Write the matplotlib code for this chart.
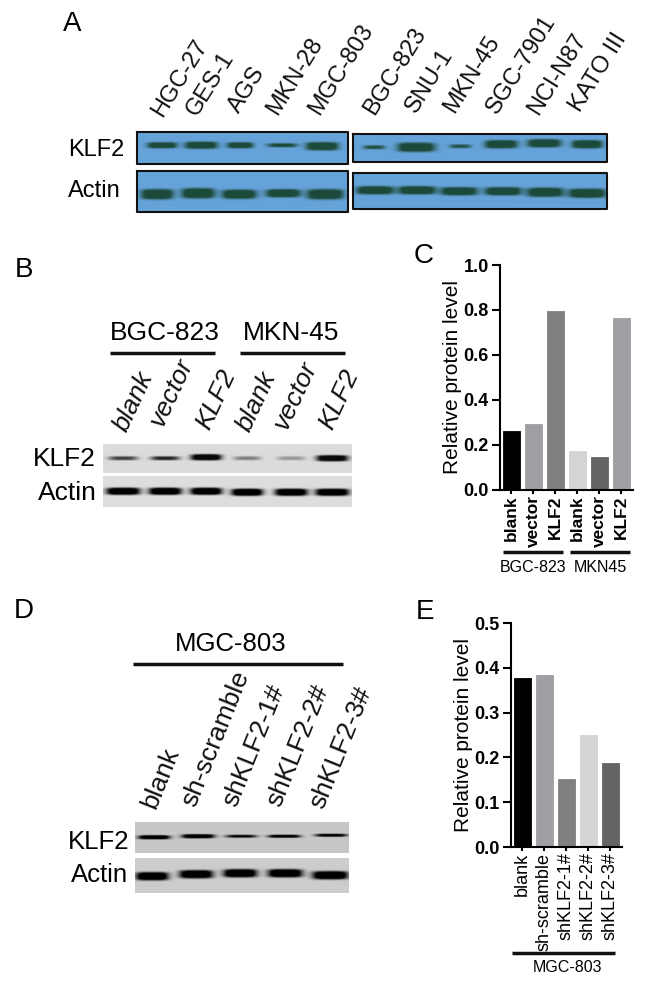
import numpy as np
import matplotlib
matplotlib.use('Agg')
import matplotlib.pyplot as plt

plt.rcParams['font.family'] = ['Liberation Sans', 'DejaVu Sans']

# Panel A
cells_a = ['HGC-27', 'GES-1', 'AGS', 'MKN-28', 'MGC-803', 'BGC-823', 'SNU-1',
           'MKN-45', 'SGC-7901', 'NCI-N87', 'KATO III']
klf2_a_left = [0.9, 1.0, 0.9, 0.75, 1.0]
actin_a_left = [1.0, 1.0, 1.0, 1.0, 1.0]
klf2_a_right = [0.65, 1.0, 0.6, 1.0, 1.0, 1.0]
actin_a_right = [1.0, 1.0, 1.0, 1.0, 1.0, 1.0]

# Panel B and C
lanes_b = ['blank', 'vector', 'KLF2', 'blank', 'vector', 'KLF2']
klf2_b = [0.5, 0.6, 1.0, 0.3, 0.22, 0.95]
actin_b = [1.0, 1.0, 1.0, 1.0, 1.0, 1.0]
labels_c = ['blank', 'vector', 'KLF2', 'blank', 'vector', 'KLF2']
values_c = [0.262, 0.29, 0.795, 0.17, 0.145, 0.765]
ticks_c = [0.0, 0.2, 0.4, 0.6, 0.8, 1.0]
colors_c = ['#000000', '#a0a0a4', '#808080', '#d4d4d4', '#646464', '#a0a0a4']

# Panel D and E
lanes_d = ['blank', 'sh-scramble', 'shKLF2-1#', 'shKLF2-2#', 'shKLF2-3#']
klf2_d = [1.0, 1.0, 0.7, 0.9, 0.8]
actin_d = [1.0, 1.0, 1.0, 1.0, 1.0]
labels_e = ['blank', 'sh-scramble', 'shKLF2-1#', 'shKLF2-2#', 'shKLF2-3#']
values_e = [0.377, 0.383, 0.152, 0.251, 0.187]
ticks_e = [0.0, 0.1, 0.2, 0.3, 0.4, 0.5]
colors_e = ['#000000', '#a0a0a4', '#808080', '#d4d4d4', '#646464']

W, H = 650, 985
fig = plt.figure(figsize=(W / 100, H / 100), dpi=100)

# overlay in pixel coordinates for the blots, labels and group lines
ov = fig.add_axes([0, 0, 1, 1])
ov.set_xlim(0, W)
ov.set_ylim(H, 0)
ov.axis('off')


def blot(box, centres, widths, ys, heights, strengths, bg, band, edge=None):
    x0, x1, y0, y1 = box
    xx, yy = np.meshgrid(np.arange(x0, x1, 0.5), np.arange(y0, y1, 0.5))
    a = np.zeros(xx.shape)
    for c, w, y, h, s in zip(centres, widths, ys, heights, strengths):
        a += s * np.exp(-((xx - c) / (w / 2.0)) ** 4) * np.exp(-((yy - y) / (h / 2.0)) ** 4)
    a = np.clip(a * 1.5, 0, 1)[..., None]
    bg = np.array(matplotlib.colors.to_rgb(bg))
    band = np.array(matplotlib.colors.to_rgb(band))
    img = bg * (1 - a) + band * a
    ov.imshow(img, extent=(x0, x1, y1, y0), aspect='auto', interpolation='bilinear', zorder=1)
    if edge:
        ov.plot([x0, x1, x1, x0, x0], [y0, y0, y1, y1, y0], color=edge, lw=1.5, zorder=2)


def rotated(labels, xs, ys, size, angle, style='normal'):
    for s, x, y in zip(labels, xs, ys):
        ov.text(x, y, s, fontsize=size, rotation=angle, rotation_mode='anchor',
                ha='left', va='baseline', style=style, color='#111111')


def bars(rect, labels, values, ticks, colors, width_px, xlab_size, weight, labelpad):
    left, right, top, bottom = rect
    ax = fig.add_axes([left / W, 1 - bottom / H, (right - left) / W, (bottom - top) / H])
    ax.patch.set_alpha(0)
    x = np.arange(len(values))
    ax.bar(x, values, width=width_px / 22.0, color=colors, edgecolor=colors, linewidth=0.6)
    ax.set_xlim(-0.5, (right - left) / 22.0 - 0.5)
    ax.set_ylim(ticks[0], ticks[-1])
    ax.set_yticks(ticks)
    ax.set_yticklabels(['%.1f' % t for t in ticks], fontsize=13, fontweight='bold')
    ax.set_xticks(x)
    ax.set_xticklabels(labels, rotation=90, fontsize=xlab_size, fontweight=weight)
    ax.tick_params(axis='y', width=1.5, length=6, pad=2)
    ax.tick_params(axis='x', width=1.5, length=3, pad=1)
    ax.set_ylabel('Relative protein level', fontsize=15, labelpad=labelpad)
    for s in ['top', 'right']:
        ax.spines[s].set_visible(False)
    for s in ['left', 'bottom']:
        ax.spines[s].set_linewidth(1.5)
    return ax


# Panel letters
for s, x, y in [('A', 72, 24), ('B', 24, 270), ('C', 424, 256), ('D', 24, 611), ('E', 425, 612)]:
    ov.text(x, y, s, fontsize=20, ha='center', va='center')

# A: blots
blue, green = '#66a3da', '#1c4a3a'
blot((137, 348, 132, 164), [162, 201, 240, 282, 322], [30, 32, 26, 30, 32], [145, 145, 145, 145, 146],
     [6, 7, 6, 4, 8], klf2_a_left, blue, green, '#111111')
blot((137, 348, 171, 212), [157, 198, 239, 283, 325], [32, 33, 34, 34, 36], [194, 193, 194, 193, 194],
     [10, 10, 9, 8, 10], actin_a_left, blue, green, '#111111')
blot((353, 607, 134, 162), [374, 416, 460, 501, 544, 587], [22, 37, 22, 32, 33, 30], [147, 147, 146, 144, 143, 144],
     [4, 9, 4, 8, 8, 8], klf2_a_right, blue, green, '#111111')
blot((353, 607, 173, 209), [375, 417, 459, 503, 545, 587], [37, 37, 36, 36, 36, 37], [190, 190, 191, 191, 192, 193],
     [8, 8, 8, 8, 9, 9], actin_a_right, blue, green, '#111111')
ov.text(68, 150, 'KLF2', fontsize=17, va='center')
ov.text(68, 191, 'Actin', fontsize=17, va='center')
rotated(cells_a, [162, 197, 239, 277, 319, 374, 416, 454, 497, 538, 580],
        [118, 117, 114, 116, 116, 116, 114, 114, 115, 116, 113], 17, 58)

# B: blots
lane_x = [123, 165, 206, 247, 291, 332]
blot((103, 352, 444, 473), lane_x, [29, 29, 30, 27, 28, 31], [458, 458, 457, 458, 458, 458],
     [4, 4, 6, 4, 4, 6], klf2_b, '#dcdcdc', '#0a0a0a')
blot((103, 352, 476, 507), lane_x, [33, 32, 31, 31, 32, 33], [491, 491, 491, 492, 492, 492],
     [7, 7, 7, 7, 7, 7], actin_b, '#dedede', '#000000')
ov.text(33, 459, 'KLF2', fontsize=19, va='center')
ov.text(38, 493, 'Actin', fontsize=19, va='center')
ov.text(165, 333, 'BGC-823', fontsize=19, ha='center', va='center')
ov.text(291, 333, 'MKN-45', fontsize=19, ha='center', va='center')
ov.plot([110, 215], [353, 353], color='#111111', lw=2.5, solid_capstyle='butt')
ov.plot([240, 345], [353, 353], color='#111111', lw=2.5, solid_capstyle='butt')
rotated(lanes_b, [127, 163, 209, 250, 287, 332], [433, 428, 431, 433, 431, 431], 19, 65, 'italic')

# C: bars
bars((500, 633, 265, 489.5), labels_c, values_c, ticks_c, colors_c, 17, 12.5, 'bold', 1)
ov.plot([503, 563], [552, 552], color='#111111', lw=2.5, solid_capstyle='butt')
ov.plot([570, 630], [552, 552], color='#111111', lw=2.5, solid_capstyle='butt')
ov.text(533, 567, 'BGC-823', fontsize=11.5, ha='center', va='center')
ov.text(600, 567, 'MKN45', fontsize=11.5, ha='center', va='center')

# D: blots
blot((135, 349, 822, 853), [154, 198, 241, 284, 331], [31, 32, 31, 32, 32], [837, 836, 836, 836, 835],
     [4, 4, 3, 3, 3], klf2_d, '#c8c8c8', '#000000')
blot((135, 349, 858, 893), [152, 196, 240, 285, 330], [32, 33, 33, 34, 35], [876, 874, 873, 873, 875],
     [8, 8, 8, 8, 8], actin_d, '#cdcdcd', '#000000')
ov.text(68, 842, 'KLF2', fontsize=18.5, va='center')
ov.text(71, 875, 'Actin', fontsize=18.5, va='center')
ov.text(231, 644, 'MGC-803', fontsize=18.5, ha='center', va='center')
ov.plot([133, 343], [664, 664], color='#111111', lw=2.5, solid_capstyle='butt')
rotated(lanes_d, [155, 195, 236, 280, 323], [810, 808, 808, 808, 810], 19, 68)

# E: bars
bars((511, 622, 623, 847), labels_e, values_e, ticks_e, colors_e, 17, 13, 'normal', 1)
ov.plot([512, 615], [953, 953], color='#111111', lw=2.5, solid_capstyle='butt')
ov.text(567, 967, 'MGC-803', fontsize=11.5, ha='center', va='center')

ov.set_xlim(0, W)
ov.set_ylim(H, 0)

fig.savefig('out.png', dpi=100)
